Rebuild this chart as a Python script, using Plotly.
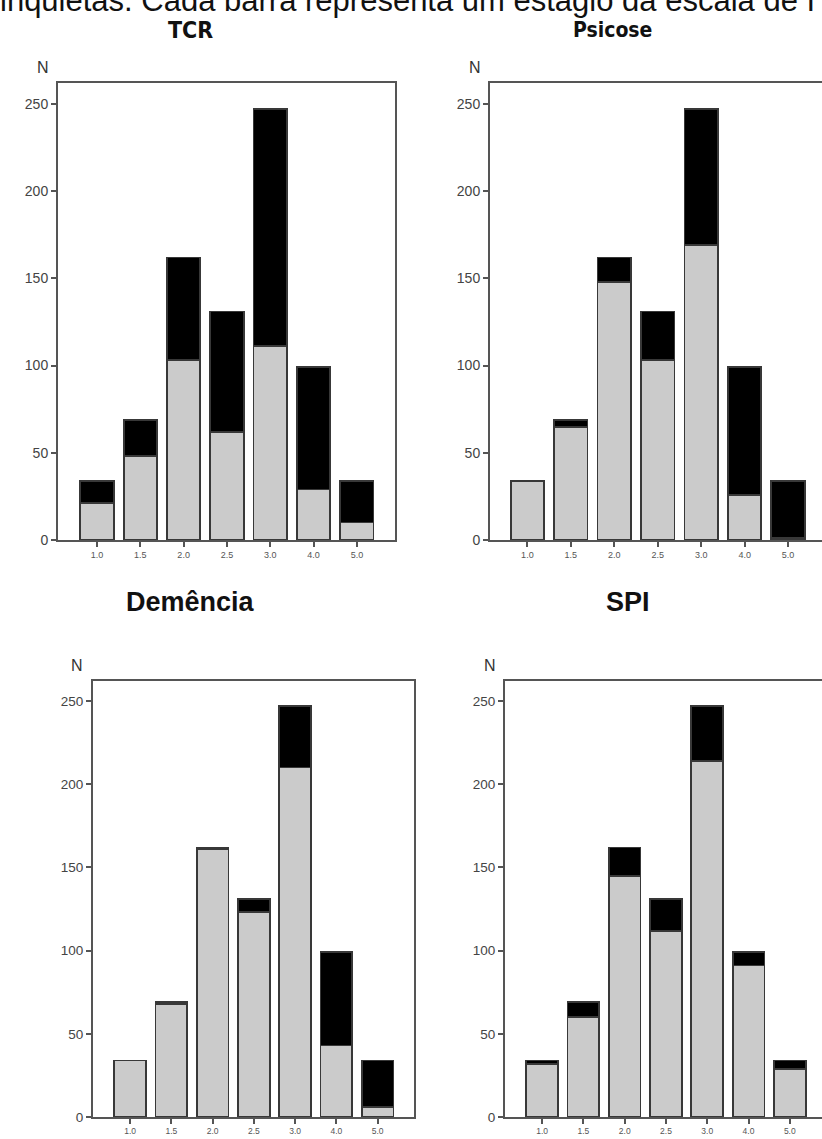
import plotly.graph_objects as go

W, H = 822, 1139

categories = ["1.0", "1.5", "2.0", "2.5", "3.0", "4.0", "5.0"]
y_ticks = [0, 50, 100, 150, 200, 250]

titles = ["TCR", "Psicose", "Demência", "SPI"]
tcr_gray = [21, 48, 103, 62, 111, 29, 10]
tcr_black = [13, 21, 59, 69, 136, 70, 24]
psicose_gray = [34, 65, 148, 103, 169, 26, 1]
psicose_black = [0, 4, 14, 28, 78, 73, 33]
demencia_gray = [34, 68, 161, 123, 210, 43, 6]
demencia_black = [0, 1, 1, 8, 37, 56, 28]
spi_gray = [32, 60, 145, 112, 214, 91, 29]
spi_black = [2, 9, 17, 19, 33, 8, 5]

caption = "inquietas. Cada barra representa um estágio da escala de I"

panels = [
    # (gray, black, x0px, x1px, y0px(top), y1px(bottom), xrange, tickfont, yfont)
    (tcr_gray, tcr_black, 58, 395, 83, 540, [-0.9, 6.88], 9, 14),
    (psicose_gray, psicose_black, 490, 822, 83, 540, [-0.86, 6.78], 9, 14),
    (demencia_gray, demencia_black, 93, 414, 681, 1117, [-0.9, 6.88], 8.5, 13.5),
    (spi_gray, spi_black, 505, 822, 681, 1117, [-0.9, 6.78], 8.5, 13.5),
]


def px(x):
    return x / W


def py(y):
    return 1 - y / H


fig = go.Figure()
layout = {}
for i, (g, b, x0, x1, yt, yb, xr, xf, yf) in enumerate(panels):
    n = "" if i == 0 else str(i + 1)
    fig.add_trace(go.Bar(x=categories, y=g, xaxis="x" + n, yaxis="y" + n,
                         marker=dict(color="#cbcbcb", line=dict(color="#383838", width=1.8)),
                         showlegend=False))
    fig.add_trace(go.Bar(x=categories, y=b, xaxis="x" + n, yaxis="y" + n,
                         marker=dict(color="#000000", line=dict(color="#383838", width=1.8)),
                         showlegend=False))
    layout["xaxis" + n] = dict(
        domain=[px(x0), min(1, px(x1))], anchor="y" + n, type="category",
        range=xr, showline=True, linecolor="#555555", linewidth=2, mirror=True,
        ticks="outside", ticklen=5, tickwidth=1.5, tickcolor="#555555",
        tickfont=dict(family="Arial, Liberation Sans", size=xf, color="#555"),
        showgrid=False, zeroline=False, fixedrange=True, automargin=False)
    layout["yaxis" + n] = dict(
        domain=[py(yb), py(yt)], anchor="x" + n, range=[0, 262],
        tickvals=y_ticks, showline=True, linecolor="#555555", linewidth=2, mirror=True,
        ticks="outside", ticklen=5, tickwidth=1.5, tickcolor="#555555",
        tickfont=dict(family="Arial, Liberation Sans", size=yf, color="#444"),
        showgrid=False, zeroline=False, fixedrange=True, automargin=False)

annotations = []
# caption (cut off at top, as in the source image)
annotations.append(dict(text=caption, x=px(-2), y=py(20), xref="paper", yref="paper",
                        xanchor="left", yanchor="bottom", showarrow=False,
                        font=dict(family="Arial, Liberation Sans", size=31, color="#111")))
# titles
cond = "DejaVu Sans Condensed, Liberation Sans Narrow, Arial Narrow, Liberation Sans, sans-serif"
title_specs = [
    ("TCR", 190, 30, cond, 23),
    ("Psicose", 612, 30, cond, 21),
    ("Demência", 190, 602, "Arial, Liberation Sans, sans-serif", 27),
    ("SPI", 628, 602, "Arial, Liberation Sans, sans-serif", 27),
]
for t, x, y, fam, s in title_specs:
    annotations.append(dict(text="<b>%s</b>" % t, x=px(x), y=py(y), xref="paper", yref="paper",
                            xanchor="center", yanchor="middle", showarrow=False,
                            font=dict(family=fam, size=s, color="#111")))
# N labels
for x, y in [(43, 68), (475, 68), (77, 665), (490, 665)]:
    annotations.append(dict(text="N", x=px(x), y=py(y), xref="paper", yref="paper",
                            xanchor="center", yanchor="middle", showarrow=False,
                            font=dict(family="Arial, Liberation Sans", size=16, color="#333")))

fig.update_layout(
    width=W, height=H, margin=dict(l=0, r=0, t=0, b=0, autoexpand=False),
    paper_bgcolor="white", plot_bgcolor="white", template="none",
    barmode="stack", bargap=0.23, annotations=annotations, **layout)

fig.write_html("out.html", config={"displayModeBar": False},
               post_script="document.body.style.margin='0';document.body.style.overflow='hidden';")
